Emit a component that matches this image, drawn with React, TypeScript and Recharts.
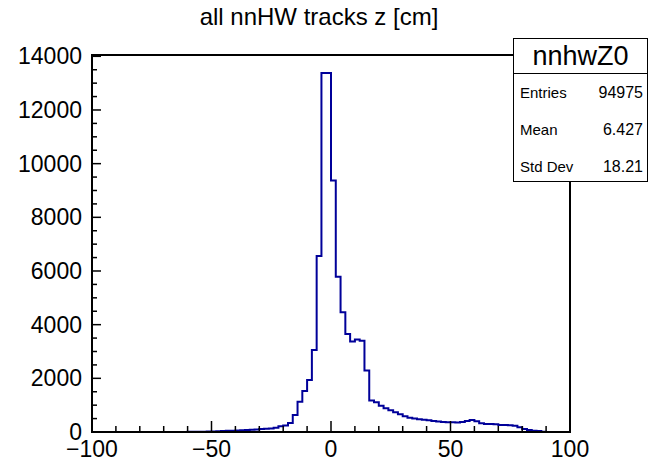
import { LineChart, Line, XAxis, YAxis, ReferenceArea } from "recharts";

// histogram nnhwZ0: 2 cm bins, first filled bin starts at -60
const BIN_LO = -60;
const BIN_WIDTH = 2;
const counts = [
  5, 8, 10, 12, 15, 20, 28, 35, 42, 50,
  58, 66, 75, 85, 95, 108, 120, 135, 160, 210,
  245, 340, 635, 1130, 1530, 1940, 3060, 6560, 13380, 13380,
  9370, 5790, 4460, 3650, 3370, 3450, 3400, 2290, 1170, 1105,
  980, 885, 810, 735, 660, 585, 535, 500, 475, 455,
  435, 410, 390, 370, 360, 360, 350, 370, 410, 445,
  400, 325, 300, 295, 285, 262, 258, 250, 236, 175,
  112, 75, 50, 35, 12,
];

const xTicks = [-100, -90, -80, -70, -60, -50, -40, -30, -20, -10, 0, 10, 20, 30, 40, 50, 60, 70, 80, 90, 100];
const yTicks = [
  0, 500, 1000, 1500, 2000, 2500, 3000, 3500, 4000, 4500, 5000, 5500, 6000, 6500, 7000,
  7500, 8000, 8500, 9000, 9500, 10000, 10500, 11000, 11500, 12000, 12500, 13000, 13500, 14000,
];
const Y_MAX = 14049;

const stats = [
  { label: "Entries", value: "94975" },
  { label: "Mean", value: "6.427" },
  { label: "Std Dev", value: "18.21" },
];

const FONT = "'Liberation Sans', Arial, Helvetica, sans-serif";
const LINE_COLOR = "#000099";

// step points: left edge of each bin, plus closing edge back to zero
const data = [
  { z: BIN_LO - BIN_WIDTH, n: 0 },
  ...counts.map((c, i) => ({ z: BIN_LO + i * BIN_WIDTH, n: c })),
  { z: BIN_LO + counts.length * BIN_WIDTH, n: 0 },
];

const fmt = (v: number) => (v < 0 ? "\u2212" + Math.abs(v) : String(v));

const XTick = (props: any) => {
  const { x, y, payload } = props;
  const v = payload.value;
  const major = v % 50 === 0;
  return (
    <g>
      <line x1={x} y1={y} x2={x} y2={y - (major ? 11 : 6)} stroke="#000" strokeWidth={1.5} />
      {major && (
        <text x={x} y={y + 25} textAnchor="middle" fontSize={23} fontFamily={FONT} fill="#000">
          {fmt(v)}
        </text>
      )}
    </g>
  );
};

const YTick = (props: any) => {
  const { x, y, payload } = props;
  const v = payload.value;
  const major = v % 2000 === 0;
  return (
    <g>
      <line x1={x} y1={y} x2={x + (major ? 9 : 5)} y2={y} stroke="#000" strokeWidth={1.5} />
      {major && (
        <text x={x - 10} y={y + 8} textAnchor="end" fontSize={23} fontFamily={FONT} fill="#000">
          {v}
        </text>
      )}
    </g>
  );
};

export default function App() {
  return (
    <div style={{ position: "absolute", left: 0, top: 0, width: 648, height: 461, background: "#fff", fontFamily: FONT }}>
      <LineChart width={648} height={461} data={data} margin={{ top: 55, right: 78, left: 0, bottom: 0 }}>
        <XAxis
          dataKey="z"
          type="number"
          domain={[-100, 100]}
          ticks={xTicks}
          interval={0}
          height={29}
          tickSize={0}
          tickMargin={0}
          tickLine={false}
          axisLine={{ stroke: "#000", strokeWidth: 2 }}
          tick={<XTick />}
          allowDataOverflow
        />
        <YAxis
          type="number"
          domain={[0, Y_MAX]}
          ticks={yTicks}
          interval={0}
          width={92}
          tickSize={0}
          tickMargin={0}
          tickLine={false}
          axisLine={{ stroke: "#000", strokeWidth: 2 }}
          tick={<YTick />}
          allowDataOverflow
        />
        <ReferenceArea x1={-100} x2={100} y1={0} y2={Y_MAX} fill="none" stroke="#000" strokeWidth={2} />
        <Line
          type="stepAfter"
          dataKey="n"
          stroke={LINE_COLOR}
          strokeWidth={2}
          dot={false}
          activeDot={false}
          isAnimationActive={false}
        />
      </LineChart>

      <div style={{ position: "absolute", left: 0, width: 648, top: 2, textAlign: "center", fontSize: 24, lineHeight: "30px", paddingRight: 10, boxSizing: "border-box" }}>
        all nnHW tracks z [cm]
      </div>

      <div
        style={{
          position: "absolute",
          left: 513,
          top: 38,
          width: 135,
          height: 144,
          boxSizing: "border-box",
          border: "1.5px solid #000",
          background: "#fff",
        }}
      >
        <div style={{ height: 34, borderBottom: "1.5px solid #000", textAlign: "center", fontSize: 27, lineHeight: "34px" }}>
          nnhwZ0
        </div>
        {stats.map((s) => (
          <div key={s.label} style={{ display: "flex", justifyContent: "space-between", height: 37, alignItems: "center", padding: "0 4px 0 6px", fontSize: 15 }}>
            <span>{s.label}</span>
            <span style={{ fontSize: 16 }}>{s.value}</span>
          </div>
        ))}
      </div>
    </div>
  );
}
